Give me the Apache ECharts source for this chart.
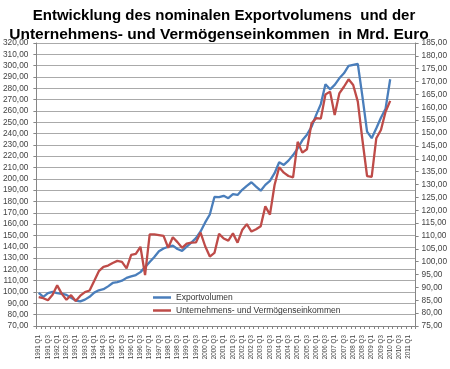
<!DOCTYPE html>
<html><head><meta charset="utf-8">
<script src="https://cdn.jsdelivr.net/npm/echarts@6/dist/echarts.min.js"></script>
<style>html,body{margin:0;padding:0;background:#fff}#c{width:450px;height:369px}</style>
</head><body><div id="c"></div>
<script>
var categories = ["1991 Q1","1991 Q2","1991 Q3","1991 Q4","1992 Q1","1992 Q2","1992 Q3","1992 Q4","1993 Q1","1993 Q2","1993 Q3","1993 Q4","1994 Q1","1994 Q2","1994 Q3","1994 Q4","1995 Q1","1995 Q2","1995 Q3","1995 Q4","1996 Q1","1996 Q2","1996 Q3","1996 Q4","1997 Q1","1997 Q2","1997 Q3","1997 Q4","1998 Q1","1998 Q2","1998 Q3","1998 Q4","1999 Q1","1999 Q2","1999 Q3","1999 Q4","2000 Q1","2000 Q2","2000 Q3","2000 Q4","2001 Q1","2001 Q2","2001 Q3","2001 Q4","2002 Q1","2002 Q2","2002 Q3","2002 Q4","2003 Q1","2003 Q2","2003 Q3","2003 Q4","2004 Q1","2004 Q2","2004 Q3","2004 Q4","2005 Q1","2005 Q2","2005 Q3","2005 Q4","2006 Q1","2006 Q2","2006 Q3","2006 Q4","2007 Q1","2007 Q2","2007 Q3","2007 Q4","2008 Q1","2008 Q2","2008 Q3","2008 Q4","2009 Q1","2009 Q2","2009 Q3","2009 Q4","2010 Q1","2010 Q2","2010 Q3","2010 Q4","2011 Q1","2011 Q2"];
var exportvolumen = [99.3,95.8,99,100.2,99,98.5,97.5,95,92.5,91.7,93.3,95.8,99.5,101.5,102.5,105,108,108.8,110,112.5,113.8,115,117.6,122,126.5,131,136,138.5,140,141,138,136.4,140.2,143.7,147.6,153.5,161.5,168.5,184,183.8,185,182.9,186.5,185.8,190.3,193.8,197,193.2,189.5,194.7,198.2,205,214.7,212.3,216.1,221,227,234,239,246,256.5,266,283.5,279.1,283,288.8,293.2,299.7,300.6,301.5,272.6,241.7,235.9,244.7,254,262,288];
var einkommen = [86.2,85.8,85,87.1,90.8,87.5,85.2,87,84.7,86.8,88.2,88.8,92.5,96.3,98,98.5,99.5,100.3,99.9,97.4,102.6,103,105.8,94.8,110.6,110.6,110.3,110,105.4,109.5,107.6,105.4,107,107.4,107.5,111.3,106,102,103.4,110.8,109,108.2,111,107.4,112.3,114.6,111.7,112.6,113.8,121.5,118.3,129.8,136.7,134.6,133.3,132.8,146.6,142.4,143.7,153.8,155.8,155.6,165,166.1,157,165.4,168,170.9,168.7,162.2,147.3,133.3,133,148,151.2,158.3,162.5];
var titleLine1 = "Entwicklung des nominalen Exportvolumens  und der";
var titleLine2 = "Unternehmens- und Vermögenseinkommen  in Mrd. Euro";
var seriesNames = ["Exportvolumen", "Unternehmens- und Vermögenseinkommen"];

var fmt = function (v) { return v.toFixed(2).replace('.', ','); };
var chart = echarts.init(document.getElementById('c'), null, {renderer: 'canvas'});
chart.setOption({
  animation: false,
  backgroundColor: '#fff',
  title: [
    {text: titleLine1, left: 219, top: 3, textAlign: 'center',
     textStyle: {fontFamily: 'Liberation Sans', fontWeight: 'bold', fontSize: 15, color: '#000'}},
    {text: titleLine2, left: 214, top: 22, textAlign: 'center',
     textStyle: {fontFamily: 'Liberation Sans', fontWeight: 'bold', fontSize: 15.5, color: '#000'}}
  ],
  legend: {
    orient: 'vertical', left: 153, top: 293, padding: 0, icon: 'rect', itemWidth: 18, itemHeight: 2.5, itemGap: 4,
    textStyle: {fontFamily: 'Liberation Sans', fontSize: 8.5, color: '#333'},
    data: seriesNames
  },
  grid: {left: 35, right: 33, top: 43, bottom: 43, containLabel: false},
  xAxis: {
    type: 'category', data: categories, boundaryGap: true,
    axisLine: {lineStyle: {color: '#868686', width: 1}},
    axisTick: {show: true, interval: 0, length: 3, lineStyle: {color: '#868686'}},
    axisLabel: {interval: 1, rotate: 90, margin: 9, fontFamily: 'Liberation Sans', fontSize: 6.3, color: '#444'},
    splitLine: {show: false}
  },
  yAxis: [
    {type: 'value', min: 70, max: 320, interval: 10, position: 'left',
     axisLine: {show: true, lineStyle: {color: '#868686'}},
     axisTick: {show: true, length: 3, lineStyle: {color: '#868686'}},
     axisLabel: {formatter: fmt, margin: 8, fontFamily: 'Liberation Sans', fontSize: 8.3, color: '#444'},
     splitLine: {show: true, lineStyle: {color: '#aaaaaa', width: 1}}},
    {type: 'value', min: 75, max: 185, interval: 5, position: 'right',
     axisLine: {show: true, lineStyle: {color: '#868686'}},
     axisTick: {show: true, length: 3, lineStyle: {color: '#868686'}},
     axisLabel: {formatter: fmt, margin: 6, fontFamily: 'Liberation Sans', fontSize: 8.3, color: '#444'},
     splitLine: {show: false}}
  ],
  series: [
    {name: seriesNames[0], type: 'line', yAxisIndex: 0, data: exportvolumen, symbol: 'none',
     lineStyle: {color: '#4a7ebb', width: 2.3}, itemStyle: {color: '#4a7ebb'}},
    {name: seriesNames[1], type: 'line', yAxisIndex: 1, data: einkommen, symbol: 'none',
     lineStyle: {color: '#be4b48', width: 2.3}, itemStyle: {color: '#be4b48'}}
  ]
});
</script></body></html>
